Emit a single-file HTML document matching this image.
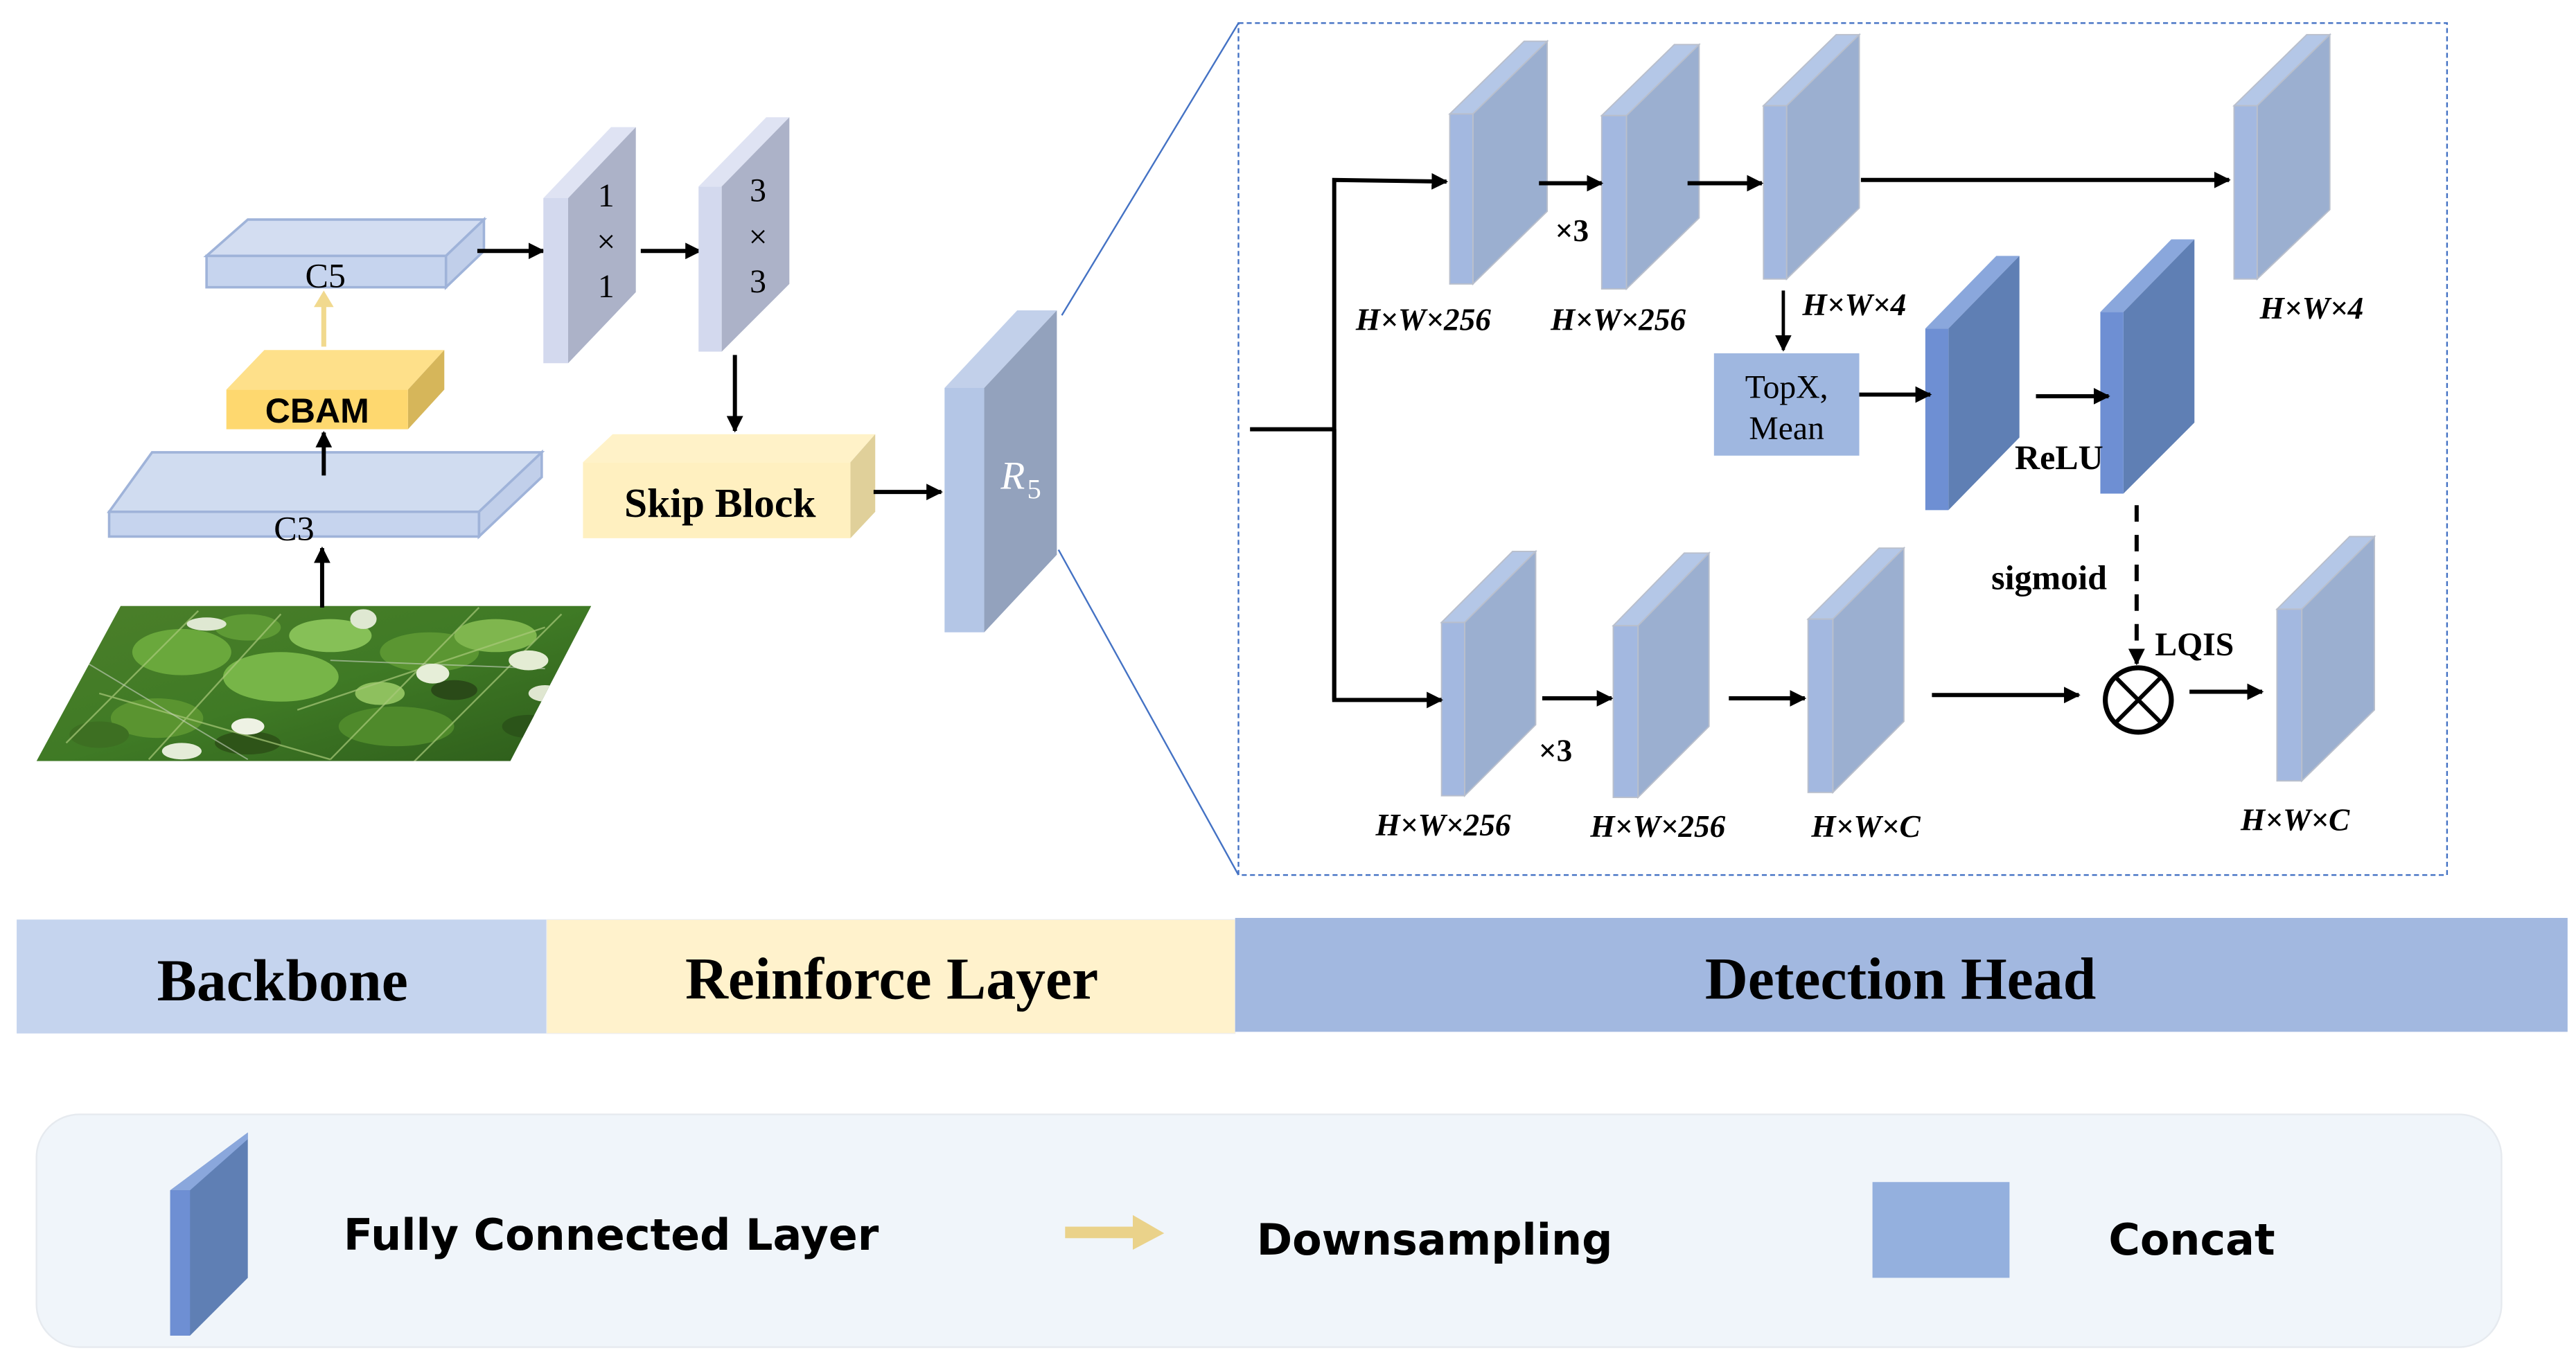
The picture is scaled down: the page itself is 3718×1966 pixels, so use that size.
<!DOCTYPE html>
<html><head><meta charset="utf-8"><style>
html,body{margin:0;padding:0;background:#fff;}
svg{display:block;}
.t{font-family:"Liberation Serif",serif;}
.lab{font-family:"Liberation Serif",serif;font-style:italic;font-weight:bold;font-size:19px;}
</style></head><body>
<svg width="3718" height="1966" viewBox="0 0 1560 825" xmlns="http://www.w3.org/2000/svg">
<defs>
<marker id="ah" markerWidth="10" markerHeight="10" refX="9" refY="5" orient="auto" markerUnits="userSpaceOnUse">
<path d="M0,0 L10,5 L0,10 Z" fill="#000"/></marker>
<clipPath id="imgc"><polygon points="22,461 73,367 358,367 309,461"/></clipPath>
<linearGradient id="gg" x1="0" y1="0" x2="1" y2="1">
<stop offset="0" stop-color="#4c7f2a"/><stop offset="0.5" stop-color="#3f7a25"/><stop offset="1" stop-color="#2c5a1a"/></linearGradient>
</defs>
<rect width="1560" height="825" fill="#fff"/>

<!-- image -->
<g clip-path="url(#imgc)">
<rect x="20" y="365" width="345" height="100" fill="url(#gg)"/>
<ellipse cx="110" cy="395" rx="30" ry="14" fill="#6aa83c"/>
<ellipse cx="170" cy="410" rx="35" ry="15" fill="#77b548"/>
<ellipse cx="200" cy="385" rx="25" ry="10" fill="#86c057"/>
<ellipse cx="150" cy="380" rx="20" ry="8" fill="#5e9a35"/>
<ellipse cx="260" cy="395" rx="30" ry="12" fill="#5b9632"/>
<ellipse cx="300" cy="385" rx="25" ry="10" fill="#7fb64e"/>
<ellipse cx="95" cy="435" rx="28" ry="12" fill="#5a9430"/>
<ellipse cx="240" cy="440" rx="35" ry="12" fill="#4f8a2b"/>
<ellipse cx="230" cy="420" rx="15" ry="7" fill="#8ec05e"/>
<ellipse cx="275" cy="418" rx="14" ry="6" fill="#2a4a18"/>
<ellipse cx="150" cy="450" rx="20" ry="7" fill="#2e5418"/>
<ellipse cx="60" cy="445" rx="18" ry="8" fill="#3d6f22"/>
<ellipse cx="320" cy="440" rx="16" ry="7" fill="#2b5419"/>
<g stroke="#a9c97a" stroke-width="1" opacity="0.7">
<line x1="40" y1="450" x2="120" y2="370"/><line x1="90" y1="460" x2="170" y2="372"/>
<line x1="200" y1="460" x2="290" y2="368"/><line x1="250" y1="462" x2="340" y2="372"/>
<line x1="60" y1="420" x2="200" y2="460"/><line x1="180" y1="430" x2="330" y2="380"/>
</g>
<g stroke="#c8d2c0" stroke-width="0.8" opacity="0.6">
<line x1="50" y1="400" x2="150" y2="460"/><line x1="200" y1="400" x2="330" y2="405"/>
</g>
<ellipse cx="262" cy="408" rx="10" ry="6" fill="#e6eed8"/>
<ellipse cx="320" cy="400" rx="12" ry="6" fill="#e4ecd4"/>
<ellipse cx="150" cy="440" rx="10" ry="5" fill="#eef2e4"/>
<ellipse cx="125" cy="378" rx="12" ry="4" fill="#dfe8d2"/>
<ellipse cx="220" cy="375" rx="8" ry="6" fill="#dfe8d2"/>
<ellipse cx="110" cy="455" rx="12" ry="5" fill="#e4ecd8"/>
<ellipse cx="330" cy="420" rx="10" ry="5" fill="#dfe6d0"/>
</g>

<line x1="195" y1="368" x2="195" y2="332" stroke="#000" stroke-width="2.5" marker-end="url(#ah)"/>
<polygon points="66,310 92,274 328,274 290,310" fill="#d0dcf0" stroke="#9fb3d9" stroke-width="1.5"/>
<polygon points="290,310 328,274 328,289 290,325" fill="#c1cfea" stroke="#9fb3d9" stroke-width="1.5"/>
<rect x="66" y="310" width="224" height="15" fill="#c6d4ee" stroke="#9fb3d9" stroke-width="1.5"/>
<text x="178" y="327" class="t" font-size="21" text-anchor="middle">C3</text>
<line x1="196" y1="288" x2="196" y2="262" stroke="#000" stroke-width="2.5" marker-end="url(#ah)"/>
<polygon points="137,236 160,212 269,212 247,236" fill="#fee08a"/>
<polygon points="247,236 269,212 269,236 247,260" fill="#d6b65a"/>
<rect x="137" y="236" width="110" height="24" fill="#fed86f"/>
<text x="192" y="256" font-family="Liberation Sans,sans-serif" font-weight="bold" font-size="21" text-anchor="middle">CBAM</text>
<line x1="196" y1="210" x2="196" y2="184" stroke="#f1d98e" stroke-width="3"/>
<path d="M190,186 L196,176 L202,186 Z" fill="#f1d98e"/>
<polygon points="125,155 150,133 293,133 270,155" fill="#d3ddf1" stroke="#9fb3d9" stroke-width="1.5"/>
<polygon points="270,155 293,133 293,152 270,174" fill="#c1cfea" stroke="#9fb3d9" stroke-width="1.5"/>
<rect x="125" y="155" width="145" height="19" fill="#c6d4ee" stroke="#9fb3d9" stroke-width="1.5"/>
<text x="197" y="174" class="t" font-size="21" text-anchor="middle">C5</text>
<line x1="289" y1="152" x2="329" y2="152" stroke="#000" stroke-width="2.5" marker-end="url(#ah)"/>
<polygon points="329,120 370,77 385,77 344,120" fill="#dfe3f3"/>
<polygon points="344,120 385,77 385,177 344,220" fill="#acb2c8"/>
<rect x="329" y="120" width="15" height="100" fill="#d3d9ee"/>
<text x="367" y="125" class="t" font-size="20" text-anchor="middle">1</text>
<text x="367" y="153" class="t" font-size="20" text-anchor="middle">×</text>
<text x="367" y="180" class="t" font-size="20" text-anchor="middle">1</text>
<line x1="388" y1="152" x2="424" y2="152" stroke="#000" stroke-width="2.5" marker-end="url(#ah)"/>
<polygon points="423,113 464,71 478,71 437,113" fill="#dfe3f3"/>
<polygon points="437,113 478,71 478,172 437,213" fill="#acb2c8"/>
<rect x="423" y="113" width="14" height="100" fill="#d3d9ee"/>
<text x="459" y="122" class="t" font-size="20" text-anchor="middle">3</text>
<text x="459" y="150" class="t" font-size="20" text-anchor="middle">×</text>
<text x="459" y="177" class="t" font-size="20" text-anchor="middle">3</text>
<line x1="445" y1="215" x2="445" y2="261" stroke="#000" stroke-width="2.5" marker-end="url(#ah)"/>
<polygon points="353,280 371,263 530,263 515,280" fill="#fff2c8"/>
<polygon points="515,280 530,263 530,310 515,326" fill="#e0d09a"/>
<rect x="353" y="280" width="162" height="46" fill="#fff0c0"/>
<text x="436" y="313" class="t" font-weight="bold" font-size="25" text-anchor="middle">Skip Block</text>
<line x1="529" y1="298" x2="570" y2="298" stroke="#000" stroke-width="2.5" marker-end="url(#ah)"/>
<polygon points="572,235 616,188 640,188 596,235" fill="#c2d0ea"/>
<polygon points="596,235 640,188 640,336 596,383" fill="#93a2bd"/>
<rect x="572" y="235" width="24" height="148" fill="#b4c6e6"/>
<text x="606" y="296" font-family="Liberation Serif,serif" font-style="italic" font-size="24" fill="#fff">R</text>
<text x="622" y="302" font-family="Liberation Serif,serif" font-size="17" fill="#fff">5</text>
<line x1="643" y1="191" x2="750" y2="14" stroke="#4472c4" stroke-width="1"/>
<line x1="641" y1="333" x2="750" y2="530" stroke="#4472c4" stroke-width="1"/>
<rect x="750" y="14" width="732" height="516" fill="none" stroke="#4472c4" stroke-width="1" stroke-dasharray="3,2"/>

<polygon points="878,69 923,25 937,25 892,69" fill="#b4c7e7" stroke="#b9bfcc" stroke-width="0.8"/>
<polygon points="892,69 937,25 937,128 892,172" fill="#9bafd0" stroke="#b9bfcc" stroke-width="0.8"/>
<rect x="878" y="69" width="14" height="103" fill="#a3b8e0" stroke="#b9bfcc" stroke-width="0.8"/>
<polygon points="970,70 1014,27 1029,27 985,70" fill="#b4c7e7" stroke="#b9bfcc" stroke-width="0.8"/>
<polygon points="985,70 1029,27 1029,132 985,175" fill="#9bafd0" stroke="#b9bfcc" stroke-width="0.8"/>
<rect x="970" y="70" width="15" height="105" fill="#a3b8e0" stroke="#b9bfcc" stroke-width="0.8"/>
<polygon points="1068,64 1112,21 1126,21 1082,64" fill="#b4c7e7" stroke="#b9bfcc" stroke-width="0.8"/>
<polygon points="1082,64 1126,21 1126,126 1082,169" fill="#9bafd0" stroke="#b9bfcc" stroke-width="0.8"/>
<rect x="1068" y="64" width="14" height="105" fill="#a3b8e0" stroke="#b9bfcc" stroke-width="0.8"/>
<polygon points="1353,64 1397,21 1411,21 1367,64" fill="#b4c7e7" stroke="#b9bfcc" stroke-width="0.8"/>
<polygon points="1367,64 1411,21 1411,127 1367,169" fill="#9bafd0" stroke="#b9bfcc" stroke-width="0.8"/>
<rect x="1353" y="64" width="14" height="105" fill="#a3b8e0" stroke="#b9bfcc" stroke-width="0.8"/>
<polygon points="1166,199 1209,155 1223,155 1180,199" fill="#8aa7dc"/>
<polygon points="1180,199 1223,155 1223,265 1180,309" fill="#5f7fb4"/>
<rect x="1166" y="199" width="14" height="110" fill="#6e8fd3"/>
<polygon points="1272,189 1315,145 1329,145 1286,189" fill="#8aa7dc"/>
<polygon points="1286,189 1329,145 1329,256 1286,299" fill="#5f7fb4"/>
<rect x="1272" y="189" width="14" height="110" fill="#6e8fd3"/>
<polygon points="873,377 916,334 930,334 887,377" fill="#b4c7e7" stroke="#b9bfcc" stroke-width="0.8"/>
<polygon points="887,377 930,334 930,439 887,482" fill="#9bafd0" stroke="#b9bfcc" stroke-width="0.8"/>
<rect x="873" y="377" width="14" height="105" fill="#a3b8e0" stroke="#b9bfcc" stroke-width="0.8"/>
<polygon points="977,379 1020,335 1035,335 992,379" fill="#b4c7e7" stroke="#b9bfcc" stroke-width="0.8"/>
<polygon points="992,379 1035,335 1035,440 992,483" fill="#9bafd0" stroke="#b9bfcc" stroke-width="0.8"/>
<rect x="977" y="379" width="15" height="104" fill="#a3b8e0" stroke="#b9bfcc" stroke-width="0.8"/>
<polygon points="1095,375 1138,332 1153,332 1110,375" fill="#b4c7e7" stroke="#b9bfcc" stroke-width="0.8"/>
<polygon points="1110,375 1153,332 1153,437 1110,480" fill="#9bafd0" stroke="#b9bfcc" stroke-width="0.8"/>
<rect x="1095" y="375" width="15" height="105" fill="#a3b8e0" stroke="#b9bfcc" stroke-width="0.8"/>
<polygon points="1379,369 1423,325 1438,325 1394,369" fill="#b4c7e7" stroke="#b9bfcc" stroke-width="0.8"/>
<polygon points="1394,369 1438,325 1438,430 1394,473" fill="#9bafd0" stroke="#b9bfcc" stroke-width="0.8"/>
<rect x="1379" y="369" width="15" height="104" fill="#a3b8e0" stroke="#b9bfcc" stroke-width="0.8"/>

<rect x="1038" y="214" width="88" height="62" fill="#9fb7e0"/>
<text x="1082" y="241" class="t" font-size="20" text-anchor="middle">TopX,</text>
<text x="1082" y="266" class="t" font-size="20" text-anchor="middle">Mean</text>

<g stroke="#000" stroke-width="2.5" fill="none">
<polyline points="757,260 808,260"/>
<polyline points="808,424 808,109 876,110" marker-end="url(#ah)"/>
<polyline points="808,260 808,424 873,424" marker-end="url(#ah)"/>
<line x1="932" y1="111" x2="970" y2="111" marker-end="url(#ah)"/>
<line x1="1022" y1="111" x2="1067" y2="111" marker-end="url(#ah)"/>
<line x1="1127" y1="109" x2="1350" y2="109" marker-end="url(#ah)"/>
<line x1="1080" y1="176" x2="1080" y2="212" stroke-width="2" marker-end="url(#ah)"/>
<line x1="1126" y1="239" x2="1169" y2="239" marker-end="url(#ah)"/>
<line x1="1233" y1="240" x2="1277" y2="240" marker-end="url(#ah)"/>
<line x1="1294" y1="306" x2="1294" y2="402" stroke-dasharray="10,8" marker-end="url(#ah)"/>
<line x1="934" y1="423" x2="976" y2="423" marker-end="url(#ah)"/>
<line x1="1047" y1="423" x2="1093" y2="423" marker-end="url(#ah)"/>
<line x1="1170" y1="421" x2="1259" y2="421" marker-end="url(#ah)"/>
<line x1="1326" y1="419" x2="1370" y2="419" marker-end="url(#ah)"/>
</g>
<ellipse cx="1295" cy="424" rx="20" ry="19.5" fill="none" stroke="#000" stroke-width="3"/>
<line x1="1281" y1="410" x2="1309" y2="438" stroke="#000" stroke-width="2.5"/>
<line x1="1309" y1="410" x2="1281" y2="438" stroke="#000" stroke-width="2.5"/>

<text x="952" y="146" class="t" font-weight="bold" font-size="19" text-anchor="middle">×3</text>
<text x="942" y="461" class="t" font-weight="bold" font-size="19" text-anchor="middle">×3</text>
<text x="1247" y="284" class="t" font-weight="bold" font-size="21" text-anchor="middle">ReLU</text>
<text x="1241" y="357" class="t" font-weight="bold" font-size="21" text-anchor="middle">sigmoid</text>
<text x="1329" y="397" class="t" font-weight="bold" font-size="20" text-anchor="middle">LQIS</text>
<text x="862" y="200" class="lab" text-anchor="middle">H×W×256</text>
<text x="980" y="200" class="lab" text-anchor="middle">H×W×256</text>
<text x="1123" y="191" class="lab" text-anchor="middle">H×W×4</text>
<text x="1400" y="193" class="lab" text-anchor="middle">H×W×4</text>
<text x="874" y="506" class="lab" text-anchor="middle">H×W×256</text>
<text x="1004" y="507" class="lab" text-anchor="middle">H×W×256</text>
<text x="1130" y="507" class="lab" text-anchor="middle">H×W×C</text>
<text x="1390" y="503" class="lab" text-anchor="middle">H×W×C</text>

<rect x="10" y="557" width="321" height="69" fill="#c5d4ee"/>
<rect x="331" y="557" width="417" height="69" fill="#fff2cc" stroke="#eee" stroke-width="0.5"/>
<rect x="748" y="556" width="807" height="69" fill="#a2b8e0"/>
<text x="171" y="606" class="t" font-weight="bold" font-size="36" text-anchor="middle">Backbone</text>
<text x="540" y="605" class="t" font-weight="bold" font-size="36" text-anchor="middle">Reinforce Layer</text>
<text x="1151" y="605" class="t" font-weight="bold" font-size="36" text-anchor="middle">Detection Head</text>

<rect x="22" y="675" width="1493" height="141" rx="26" fill="#f0f5fa" stroke="#e6eaef" stroke-width="1"/>
<polygon points="103,721 150,686 150,774 115,809 103,809" fill="#5f7fb4"/>
<polygon points="103,721 150,686 150,690 115,721" fill="#8aa7dc"/>
<rect x="103" y="721" width="12" height="88" fill="#6e8fd3"/>
<text x="208" y="757" font-family="DejaVu Sans,sans-serif" font-weight="bold" font-size="26">Fully Connected Layer</text>
<polygon points="645,743 686,743 686,736 705,747 686,757 686,750 645,750" fill="#ead28a"/>
<text x="761" y="760" font-family="DejaVu Sans,sans-serif" font-weight="bold" font-size="26">Downsampling</text>
<rect x="1134" y="716" width="83" height="58" fill="#94b0de"/>
<text x="1277" y="760" font-family="DejaVu Sans,sans-serif" font-weight="bold" font-size="26">Concat</text>
</svg>
</body></html>
